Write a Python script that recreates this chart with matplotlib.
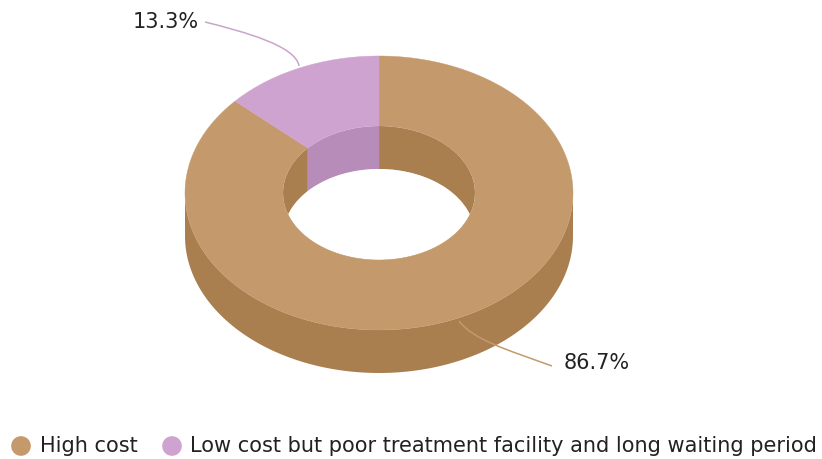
import numpy as np
import matplotlib
matplotlib.use('Agg')
import matplotlib.pyplot as plt
from matplotlib.patches import Ellipse, Polygon, PathPatch
from matplotlib.path import Path

labels = ['High cost', 'Low cost but poor treatment facility and long waiting period']
values = [86.7, 13.3]
value_labels = ['86.7%', '13.3%']
top_colors = ['#c49a6c', '#cfa3cf']
side_colors = ['#a97f50', '#b88cb8']

W, H = 822, 459
CX, CY = 379, 193
RX, RY = 194, 137
IX, IY = 96, 67
DEPTH = 43


def point(angle, rx, ry, dy=0):
    return CX + rx * np.cos(angle), CY - ry * np.sin(angle) + dy


def ring(a0, a1, rx0, ry0, rx1, ry1, dy0=0, dy1=0):
    t = np.linspace(a0, a1, 200)
    x0, y0 = point(t, rx0, ry0, dy0)
    x1, y1 = point(t[::-1], rx1, ry1, dy1)
    return np.column_stack([np.r_[x0, x1], np.r_[y0, y1]])


def leader(ax, verts, color):
    codes = [Path.MOVETO, Path.CURVE4, Path.CURVE4, Path.CURVE4]
    ax.add_patch(PathPatch(Path(verts, codes), fc='none', ec=color, lw=1.1, zorder=5))


fig = plt.figure(figsize=(W / 100, H / 100), dpi=100)
ax = fig.add_axes([0, 0, 1, 1])
ax.set_xlim(0, W)
ax.set_ylim(H, 0)
ax.axis('off')

# slice angles go clockwise from 12 o'clock, the small slice ends there
total = sum(values)
start = np.pi / 2
high_end = start - 2 * np.pi * values[0] / total
spans = [(start, high_end), (high_end, start - 2 * np.pi)]

# outer wall, only the front half can be seen
ax.add_patch(Polygon(ring(np.pi, 2 * np.pi, RX, RY, RX, RY, 0, DEPTH),
                     fc=side_colors[0], ec='none', zorder=1))

# inner wall seen through the hole, clipped to the hole
hole = Ellipse((CX, CY), 2 * IX, 2 * IY, fc='none', ec='none', zorder=2)
ax.add_patch(hole)
for (a0, a1), col in zip(spans, side_colors):
    wall = Polygon(ring(a0, a1, IX, IY, IX, IY, 0, DEPTH), fc=col, ec=col, lw=0.3, zorder=2)
    ax.add_patch(wall)
    wall.set_clip_path(hole)

# white see-through part of the hole
opening = Ellipse((CX, CY + DEPTH), 2 * IX, 2 * IY, fc='white', ec='none', zorder=3)
ax.add_patch(opening)
opening.set_clip_path(hole)

# top face
for (a0, a1), col in zip(spans, top_colors):
    ax.add_patch(Polygon(ring(a0, a1, RX, RY, IX, IY), fc=col, ec=col, lw=0.3, zorder=4))

# curved leader lines
leader(ax, [(459, 321), (474, 340), (505, 349), (552, 366)], top_colors[0])
leader(ax, [(205, 22), (245, 32), (296, 46), (299, 66)], '#c9a6c9')

ax.text(564, 363, value_labels[0], fontsize=15, va='center', ha='left', color='#222222')
ax.text(199, 22, value_labels[1], fontsize=15, va='center', ha='right', color='#222222')

# legend row
ax.scatter([21, 172], [446, 446], s=200, c=top_colors, linewidths=0)
ax.text(40, 446, labels[0], fontsize=15, va='center', ha='left', color='#222222')
ax.text(190, 446, labels[1], fontsize=15, va='center', ha='left', color='#222222')

fig.savefig('out.png', dpi=100, facecolor='white')
